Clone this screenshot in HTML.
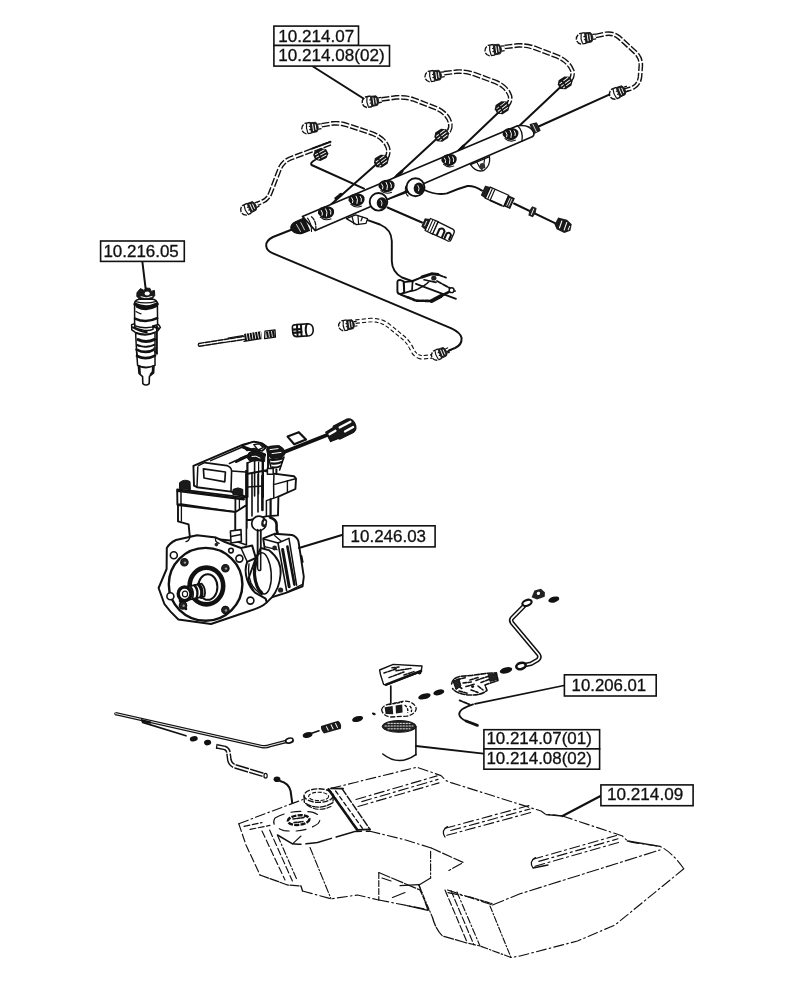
<!DOCTYPE html>
<html><head><meta charset="utf-8"><title>Fuel system</title>
<style>
html,body{margin:0;padding:0;background:#fff;}
svg{display:block;}
text{font-family:"Liberation Sans",sans-serif;font-size:16.2px;fill:#111;stroke:#111;stroke-width:0.3px;}
</style></head><body>
<svg width="812" height="1000" viewBox="0 0 812 1000">
<defs><filter id="g" filterUnits="userSpaceOnUse" x="0" y="0" width="812" height="1000" color-interpolation-filters="sRGB"><feColorMatrix type="saturate" values="0"/></filter></defs>
<rect width="812" height="1000" fill="#fff"/>
<g filter="url(#g)">
<path d="M292,229.5 L273,237 Q265.6,240.6 266.2,246 Q266.8,251 273,253.4 L451.4,328.3 Q460.6,332.6 461.6,338 Q462,345 455,348 L449,350.4" fill="none" stroke="#111" stroke-width="2.0" stroke-linecap="round" stroke-linejoin="round" />
<path d="M367,219.8 L380,224.5 Q391.5,229.5 391.8,241 L391.8,261 Q392,272 402,277.5 L413,281.5" fill="none" stroke="#111" stroke-width="1.9" stroke-linecap="round" stroke-linejoin="round" />
<path d="M315,160 Q309.6,163 311.6,165 L364,188.7" fill="none" stroke="#111" stroke-width="2.0" stroke-linecap="round" stroke-linejoin="round" />
<path d="M331,204.5 L376,164.5" fill="none" stroke="#111" stroke-width="2.0" stroke-linecap="round" stroke-linejoin="round" />
<path d="M336,198.5 L341,194.5" fill="none" stroke="#111" stroke-width="3.2" stroke-linecap="round" stroke-linejoin="round" />
<path d="M392,180 L438,137.5" fill="none" stroke="#111" stroke-width="2.0" stroke-linecap="round" stroke-linejoin="round" />
<path d="M397,175.8 L402,171.3" fill="none" stroke="#111" stroke-width="3.0" stroke-linecap="round" stroke-linejoin="round" />
<path d="M455,154 L499.5,111.5" fill="none" stroke="#111" stroke-width="2.0" stroke-linecap="round" stroke-linejoin="round" />
<path d="M459,150.5 L463.5,146" fill="none" stroke="#111" stroke-width="3.0" stroke-linecap="round" stroke-linejoin="round" />
<path d="M517,128 L560.5,87" fill="none" stroke="#111" stroke-width="2.0" stroke-linecap="round" stroke-linejoin="round" />
<path d="M538,126.8 L612,93.4" fill="none" stroke="#111" stroke-width="2.1" stroke-linecap="round" stroke-linejoin="round" />
<path d="M387.5,207.5 L422,222.5" fill="none" stroke="#111" stroke-width="2.0" stroke-linecap="round" stroke-linejoin="round" />
<path d="M388.6,199 L407.5,192" fill="none" stroke="#111" stroke-width="1.7" stroke-linecap="round" stroke-linejoin="round" />
<path d="M302.4,216.4 L517.5,125.8 Q529,124 533.5,131.5 Q535,136.5 531,137.2 L315.3,230.6 Z" fill="#fff" stroke="#111" stroke-width="1.6" stroke-linejoin="round" />
<path d="M291,229 Q290,224 296,221.5 L304,218 L309.5,230.5 L302,233.4 Q294,234.5 291,229 Z" fill="#151515" stroke="#111" stroke-width="1.2" stroke-linejoin="round" />
<path d="M296.5,224.5 L300.5,231.5 M300.8,222.6 L304.5,229.8" fill="none" stroke="#111" stroke-width="0.8" stroke-linecap="round" stroke-linejoin="round" style="stroke:#fff"/>
<path d="M311.5,216.8 Q316.5,221 315.8,229.8" fill="none" stroke="#111" stroke-width="1.3" stroke-dasharray="4 1.5" stroke-linecap="round" stroke-linejoin="round" />
<path d="M307.5,218.2 Q311.5,223 311.5,231.5" fill="none" stroke="#111" stroke-width="1.2" stroke-linecap="round" stroke-linejoin="round" />
<path d="M517.5,125.8 Q523.5,131 522,141" fill="none" stroke="#111" stroke-width="1.3" stroke-linecap="round" stroke-linejoin="round" />
<path d="M530,124.5 L536.5,122.8 L540.2,130.5 L534,133.6 Z" fill="#222" stroke="#111" stroke-width="1.0" stroke-linejoin="round" />
<path d="M533,124.6 L536.4,131.8" fill="none" stroke="#111" stroke-width="0.8" stroke-linecap="round" stroke-linejoin="round" style="stroke:#fff"/>
<g transform="translate(326,212.5) scale(1.0)">
<path d="M-8,1 Q-8.6,-4.4 -2,-6 Q5.6,-7.2 8,-2.6 Q9,2.8 3.4,5.6 Q-3.4,8 -8,1 Z" fill="#141414"/>
<path d="M-5,-2.4 Q-2.6,0.8 -4,3.2 M-0.6,-4 Q2,-0.6 0.4,4 M3.6,-3.6 Q5.6,-1 4.6,2" stroke="#fff" stroke-width="1.0" fill="none"/>
<path d="M-6,4.4 Q-1,9 5.4,6.2" stroke="#111" stroke-width="1.1" fill="none"/>
</g>
<g transform="translate(356.5,199.8) scale(1.0)">
<path d="M-8,1 Q-8.6,-4.4 -2,-6 Q5.6,-7.2 8,-2.6 Q9,2.8 3.4,5.6 Q-3.4,8 -8,1 Z" fill="#141414"/>
<path d="M-5,-2.4 Q-2.6,0.8 -4,3.2 M-0.6,-4 Q2,-0.6 0.4,4 M3.6,-3.6 Q5.6,-1 4.6,2" stroke="#fff" stroke-width="1.0" fill="none"/>
<path d="M-6,4.4 Q-1,9 5.4,6.2" stroke="#111" stroke-width="1.1" fill="none"/>
</g>
<g transform="translate(386.5,186) scale(1.0)">
<path d="M-8,1 Q-8.6,-4.4 -2,-6 Q5.6,-7.2 8,-2.6 Q9,2.8 3.4,5.6 Q-3.4,8 -8,1 Z" fill="#141414"/>
<path d="M-5,-2.4 Q-2.6,0.8 -4,3.2 M-0.6,-4 Q2,-0.6 0.4,4 M3.6,-3.6 Q5.6,-1 4.6,2" stroke="#fff" stroke-width="1.0" fill="none"/>
<path d="M-6,4.4 Q-1,9 5.4,6.2" stroke="#111" stroke-width="1.1" fill="none"/>
</g>
<g transform="translate(449,160) scale(0.95)">
<path d="M-8,1 Q-8.6,-4.4 -2,-6 Q5.6,-7.2 8,-2.6 Q9,2.8 3.4,5.6 Q-3.4,8 -8,1 Z" fill="#141414"/>
<path d="M-5,-2.4 Q-2.6,0.8 -4,3.2 M-0.6,-4 Q2,-0.6 0.4,4 M3.6,-3.6 Q5.6,-1 4.6,2" stroke="#fff" stroke-width="1.0" fill="none"/>
<path d="M-6,4.4 Q-1,9 5.4,6.2" stroke="#111" stroke-width="1.1" fill="none"/>
</g>
<g transform="translate(510.5,134) scale(0.98)">
<path d="M-8,1 Q-8.6,-4.4 -2,-6 Q5.6,-7.2 8,-2.6 Q9,2.8 3.4,5.6 Q-3.4,8 -8,1 Z" fill="#141414"/>
<path d="M-5,-2.4 Q-2.6,0.8 -4,3.2 M-0.6,-4 Q2,-0.6 0.4,4 M3.6,-3.6 Q5.6,-1 4.6,2" stroke="#fff" stroke-width="1.0" fill="none"/>
<path d="M-6,4.4 Q-1,9 5.4,6.2" stroke="#111" stroke-width="1.1" fill="none"/>
</g>
<circle cx="378.5" cy="201.8" r="8.8" fill="#fff" stroke="#111" stroke-width="1.9"/>
<ellipse cx="381.9" cy="203.0" rx="5.2" ry="5.8" fill="#151515"/>
<path d="M380.7,199.8 Q382.9,202.8 381.5,205.8" stroke="#fff" stroke-width="0.9" fill="none"/>
<circle cx="415.5" cy="187.2" r="9.0" fill="#fff" stroke="#111" stroke-width="1.9"/>
<ellipse cx="418.9" cy="188.39999999999998" rx="5.2" ry="5.8" fill="#151515"/>
<path d="M417.7,185.2 Q419.9,188.2 418.5,191.2" stroke="#fff" stroke-width="0.9" fill="none"/>
<path d="M406,186 Q404,192 408,196" fill="none" stroke="#111" stroke-width="1.2" stroke-dasharray="3 1.2" stroke-linecap="round" stroke-linejoin="round" />
<path d="M346.4,218.6 L355.5,214.8 L367.5,218.6 L366,223.4 L356.5,224.6 Z" fill="#fff" stroke="#111" stroke-width="1.3" stroke-linejoin="round" />
<path d="M352,216.5 L354,224 M358,215.8 L358.6,224 M362.5,217.2 L361,220.8" fill="none" stroke="#111" stroke-width="1.2" stroke-linecap="round" stroke-linejoin="round" />
<path d="M470.5,164.6 L489.5,156.6 Q490.8,166 483.5,170.6 Q476,172.6 470.5,164.6 Z" fill="#fff" stroke="#111" stroke-width="1.3" stroke-linejoin="round" />
<path d="M477,162.4 Q479,167.4 482.6,170.4 M484.5,159.4 Q483.2,164 484.8,167.8" fill="none" stroke="#111" stroke-width="1.2" stroke-linecap="round" stroke-linejoin="round" />
<ellipse cx="482" cy="166.2" rx="2.6" ry="3.2" transform="rotate(20 482 166.2)" fill="#333"/>
<path d="M424.5,190 Q436,195.5 447,193.4 Q458,188.6 467.5,186 Q474.5,185.6 482,190.6" fill="none" stroke="#111" stroke-width="1.9" stroke-linecap="round" stroke-linejoin="round" />
<g transform="translate(499.2,197.8) rotate(24) scale(0.96,0.9)">
<path d="M-18,-5.6 L-13,-6.4 L-13,6.4 L-18,5.4 Z" fill="#222" stroke="#111" stroke-width="1"/>
<path d="M-13,-6.8 L8,-6.8 L8,6.8 L-13,6.8 Z" fill="#fff" stroke="#111" stroke-width="1.3"/>
<path d="M-10.4,-6.4 L-10.4,6.4 M-7.6,-6.4 L-7.6,6.4" stroke="#111" stroke-width="1.2"/>
<path d="M8,-6 L14.6,-6 L14.6,6 L8,6 Z" fill="#222" stroke="#111" stroke-width="1.1"/>
<path d="M10.4,-4.6 L10.4,4.6 M12.6,-4.6 L12.6,4.6" stroke="#fff" stroke-width="0.8"/>
<path d="M-8,6.6 L6,6.6" stroke="#111" stroke-width="2"/>
</g>
<path d="M514,203.5 L556,223.6" fill="none" stroke="#111" stroke-width="2.0" stroke-linecap="round" stroke-linejoin="round" />
<g transform="translate(532.5,211.8) rotate(22)"><path d="M-2.4,-5 L2.4,-5 L3.4,0 L2.4,5 L-2.4,5 L-3.4,0 Z" fill="#222"/><path d="M0,-3.4 L0,3.4" stroke="#fff" stroke-width="0.9"/></g>
<g transform="translate(563.4,225.4) rotate(22) scale(1.22)"><path d="M-6.4,-4.4 L1,-5.4 L6,-3.4 L7,2 L3,5.4 L-4,5 L-7,2 Z" fill="#1a1a1a"/><path d="M-2.6,-3.2 L-2.2,3.4 M1.6,-3.6 L2,3.6" stroke="#fff" stroke-width="0.9"/><path d="M5,-1.6 L5,2.2" stroke="#fff" stroke-width="0.8"/></g>
<g transform="translate(438.4,229.2) rotate(24) scale(0.93)">
<path d="M-17.5,-4.4 L-12.5,-6 L-12.5,6 L-17.5,4.4 Z" fill="#222" stroke="#111" stroke-width="1"/>
<path d="M-15,-3 L-15,3" stroke="#fff" stroke-width="0.8"/>
<path d="M-12.5,-7 L-3.5,-7.4 L-3.5,7.4 L-12.5,7 Z" fill="#fff" stroke="#111" stroke-width="1.3"/>
<path d="M-9.6,-6.6 L-9.6,6.6 M-6.6,-6.8 L-6.6,6.8" stroke="#111" stroke-width="1.1"/>
<path d="M-3.5,-7 L14,-6.4 Q17,-6 17,-3 L17,5 Q17,7.4 14,7.4 L-3.5,7 Z" fill="#fff" stroke="#111" stroke-width="1.4"/>
<path d="M1,7 L1,-0.5 Q4,-4.5 7,-0.5 L7,7 M10,7 L10,0.5 Q12.5,-3 15,0.5 L15,6" fill="none" stroke="#111" stroke-width="2.2"/>
</g>
<path d="M397.4,282.4 Q397.2,279.8 400.4,280 L403.6,281.4 L404.2,292.6 L400.4,294.2 Q397.6,294 397.4,291.4 Z" fill="#fff" stroke="#111" stroke-width="1.9" stroke-linejoin="round" />
<path d="M404,282.2 L412.6,281.2 L412,290.6 L404.4,293 Z" fill="#fff" stroke="#111" stroke-width="1.7" stroke-linejoin="round" />
<path d="M400.6,294.4 L408,297.4" fill="none" stroke="#111" stroke-width="2.2" stroke-linecap="round" stroke-linejoin="round" />
<path d="M408,297.4 L416,300.6 L431.6,301" fill="none" stroke="#111" stroke-width="2.6" stroke-dasharray="3 1.5" stroke-linecap="round" stroke-linejoin="round" />
<path d="M412.6,281 L424,276.4" fill="none" stroke="#111" stroke-width="2.0" stroke-linecap="round" stroke-linejoin="round" />
<path d="M422,277 L431.6,273.8 L438,274.6" fill="none" stroke="#111" stroke-width="3.0" stroke-linecap="round" stroke-linejoin="round" />
<path d="M438,274.6 L446,277.6" fill="none" stroke="#111" stroke-width="1.7" stroke-dasharray="5 1.5" stroke-linecap="round" stroke-linejoin="round" />
<path d="M411.4,291 Q420,289.6 428.6,282" fill="none" stroke="#111" stroke-width="1.6" stroke-dasharray="6 1.4" stroke-linecap="round" stroke-linejoin="round" />
<path d="M416,283.8 L456,298.8" fill="none" stroke="#111" stroke-width="1.8" stroke-linecap="round" stroke-linejoin="round" />
<path d="M424,279.8 L436,282.4" fill="none" stroke="#111" stroke-width="1.6" stroke-linecap="round" stroke-linejoin="round" />
<path d="M437,281 L455,291" fill="none" stroke="#111" stroke-width="1.8" stroke-dasharray="5 1.6" stroke-linecap="round" stroke-linejoin="round" />
<ellipse cx="433.8" cy="278.2" rx="2.6" ry="2.4" transform="rotate(0 433.8 278.2)" fill="#222"/>
<path d="M431.6,301 L441,296" fill="none" stroke="#111" stroke-width="4.0" stroke-dasharray="2.2 1.0" stroke-linecap="round" stroke-linejoin="round" />
<path d="M441,296 L450,291.4" fill="none" stroke="#111" stroke-width="2.6" stroke-linecap="round" stroke-linejoin="round" />
<ellipse cx="451.6" cy="290.2" rx="2.6" ry="2.6" transform="rotate(0 451.6 290.2)" fill="#fff"/>
<circle cx="451.6" cy="290.2" r="2.4" fill="none" stroke="#111" stroke-width="1.4"/>
<path d="M355.5,321.6 L371,320 Q382,320 389,326 L404.5,338.6 Q409,342.8 411.8,349 Q415,356.8 422,357.4 L432.6,356.4" fill="none" stroke="#111" stroke-width="4.6" stroke-dasharray="4.2 2.2" stroke-linecap="butt" stroke-linejoin="round"/>
<path d="M355.5,321.6 L371,320 Q382,320 389,326 L404.5,338.6 Q409,342.8 411.8,349 Q415,356.8 422,357.4 L432.6,356.4" fill="none" stroke="#fff" stroke-width="2.40" stroke-linecap="butt" stroke-linejoin="round"/>
<g transform="translate(348.6,324.6) rotate(-8) scale(0.95)">
<path d="M-1.5,-5.2 L-6.6,-5 Q-10.4,-3.4 -10.6,0.4 Q-10.4,4.2 -6.6,5.6 L-1.5,5.6" fill="#fff" stroke="#111" stroke-width="1.4" stroke-dasharray="5.5 1.3"/>
<path d="M-5,-4.8 Q-6.6,0 -5,5.2" fill="none" stroke="#111" stroke-width="1.2"/>
<path d="M-1.6,-5 L4.2,-4.6 Q6,-3 6,0.4 Q6,3.6 4.2,5 L-1.6,5.4 Z" fill="#1c1c1c" stroke="#111" stroke-width="0.8"/>
<path d="M0.8,-3.4 L0.8,3.8 M3.4,-2.6 L3.4,3" stroke="#fff" stroke-width="0.9" fill="none"/>
<path d="M-3.2,-1.4 L-1.4,-1.4 M-3.2,1.8 L-1.4,1.8" stroke="#111" stroke-width="1.1" fill="none"/>
<path d="M6,-2.4 L9,-2.3 M6,2.6 L9,2.5" stroke="#111" stroke-width="1.3" fill="none"/>
</g>
<g transform="translate(441,353) rotate(-22) scale(0.95)">
<path d="M-1.5,-5.2 L-6.6,-5 Q-10.4,-3.4 -10.6,0.4 Q-10.4,4.2 -6.6,5.6 L-1.5,5.6" fill="#fff" stroke="#111" stroke-width="1.4" stroke-dasharray="5.5 1.3"/>
<path d="M-5,-4.8 Q-6.6,0 -5,5.2" fill="none" stroke="#111" stroke-width="1.2"/>
<path d="M-1.6,-5 L4.2,-4.6 Q6,-3 6,0.4 Q6,3.6 4.2,5 L-1.6,5.4 Z" fill="#1c1c1c" stroke="#111" stroke-width="0.8"/>
<path d="M0.8,-3.4 L0.8,3.8 M3.4,-2.6 L3.4,3" stroke="#fff" stroke-width="0.9" fill="none"/>
<path d="M-3.2,-1.4 L-1.4,-1.4 M-3.2,1.8 L-1.4,1.8" stroke="#111" stroke-width="1.1" fill="none"/>
<path d="M6,-2.4 L9,-2.3 M6,2.6 L9,2.5" stroke="#111" stroke-width="1.3" fill="none"/>
</g>
<path d="M447.5,351.5 L451,350" fill="none" stroke="#111" stroke-width="1.5" stroke-linecap="round" stroke-linejoin="round" />
<path d="M330.5,143.4 L290,158.6 Q282.6,161.8 279.8,168.6 L270.4,193 Q268,199.4 262,201.8 L257.4,203.8" fill="none" stroke="#111" stroke-width="4.7" stroke-dasharray="8 1.8" stroke-linecap="butt" stroke-linejoin="round"/>
<path d="M330.5,143.4 L290,158.6 Q282.6,161.8 279.8,168.6 L270.4,193 Q268,199.4 262,201.8 L257.4,203.8" fill="none" stroke="#fff" stroke-width="1.90" stroke-linecap="butt" stroke-linejoin="round"/>
<path d="M330.5,141.8 L312,148.6" fill="none" stroke="#111" stroke-width="2.0" stroke-dasharray="2.4 1.2" stroke-linecap="round" stroke-linejoin="round" />
<g transform="translate(250.4,207.4) rotate(-24) scale(0.98)">
<path d="M-1.5,-5.2 L-6.6,-5 Q-10.4,-3.4 -10.6,0.4 Q-10.4,4.2 -6.6,5.6 L-1.5,5.6" fill="#fff" stroke="#111" stroke-width="1.4" stroke-dasharray="5.5 1.3"/>
<path d="M-5,-4.8 Q-6.6,0 -5,5.2" fill="none" stroke="#111" stroke-width="1.2"/>
<path d="M-1.6,-5 L4.2,-4.6 Q6,-3 6,0.4 Q6,3.6 4.2,5 L-1.6,5.4 Z" fill="#1c1c1c" stroke="#111" stroke-width="0.8"/>
<path d="M0.8,-3.4 L0.8,3.8 M3.4,-2.6 L3.4,3" stroke="#fff" stroke-width="0.9" fill="none"/>
<path d="M-3.2,-1.4 L-1.4,-1.4 M-3.2,1.8 L-1.4,1.8" stroke="#111" stroke-width="1.1" fill="none"/>
<path d="M6,-2.4 L9,-2.3 M6,2.6 L9,2.5" stroke="#111" stroke-width="1.3" fill="none"/>
</g>
<g transform="translate(320.6,154.4) rotate(-20) scale(0.95)">
<path d="M-7.6,-2 L-4.6,-5.6 L2.6,-6.2 L7.4,-3.2 L8,2 L4.6,5.8 L-2.6,6.4 L-7.4,3.4 Z" fill="#161616"/>
<path d="M-5.6,-1.6 L5.6,-3.4 M-5.6,1.4 L6,-0.4 M-4.4,4 L5.6,2.6" stroke="#fff" stroke-width="0.95" fill="none"/>
<path d="M-1.6,-5.4 L-1,5.6" stroke="#161616" stroke-width="1.6"/>
</g>
<path d="M321.6,125.2 L333,123.4 Q341,122.8 348,125.4 L372,133.4 Q384.6,138.2 387.8,147.6 Q389.4,152.8 386.4,158" fill="none" stroke="#111" stroke-width="4.7" stroke-dasharray="8 1.8" stroke-linecap="butt" stroke-linejoin="round"/>
<path d="M321.6,125.2 L333,123.4 Q341,122.8 348,125.4 L372,133.4 Q384.6,138.2 387.8,147.6 Q389.4,152.8 386.4,158" fill="none" stroke="#fff" stroke-width="1.90" stroke-linecap="butt" stroke-linejoin="round"/>
<g transform="translate(312.2,127.4) rotate(-8) scale(1.0)">
<path d="M-1.5,-5.2 L-6.6,-5 Q-10.4,-3.4 -10.6,0.4 Q-10.4,4.2 -6.6,5.6 L-1.5,5.6" fill="#fff" stroke="#111" stroke-width="1.4" stroke-dasharray="5.5 1.3"/>
<path d="M-5,-4.8 Q-6.6,0 -5,5.2" fill="none" stroke="#111" stroke-width="1.2"/>
<path d="M-1.6,-5 L4.2,-4.6 Q6,-3 6,0.4 Q6,3.6 4.2,5 L-1.6,5.4 Z" fill="#1c1c1c" stroke="#111" stroke-width="0.8"/>
<path d="M0.8,-3.4 L0.8,3.8 M3.4,-2.6 L3.4,3" stroke="#fff" stroke-width="0.9" fill="none"/>
<path d="M-3.2,-1.4 L-1.4,-1.4 M-3.2,1.8 L-1.4,1.8" stroke="#111" stroke-width="1.1" fill="none"/>
<path d="M6,-2.4 L9,-2.3 M6,2.6 L9,2.5" stroke="#111" stroke-width="1.3" fill="none"/>
</g>
<g transform="translate(381.2,161) rotate(-28) scale(0.95)">
<path d="M-7.6,-2 L-4.6,-5.6 L2.6,-6.2 L7.4,-3.2 L8,2 L4.6,5.8 L-2.6,6.4 L-7.4,3.4 Z" fill="#161616"/>
<path d="M-5.6,-1.6 L5.6,-3.4 M-5.6,1.4 L6,-0.4 M-4.4,4 L5.6,2.6" stroke="#fff" stroke-width="0.95" fill="none"/>
<path d="M-1.6,-5.4 L-1,5.6" stroke="#161616" stroke-width="1.6"/>
</g>
<path d="M381.6,99.4 L396,97.4 Q406,96.8 414,99.6 L436.6,108.4 Q447.6,113.4 450.2,123 Q451.2,128.4 448,132.6" fill="none" stroke="#111" stroke-width="4.7" stroke-dasharray="8 1.8" stroke-linecap="butt" stroke-linejoin="round"/>
<path d="M381.6,99.4 L396,97.4 Q406,96.8 414,99.6 L436.6,108.4 Q447.6,113.4 450.2,123 Q451.2,128.4 448,132.6" fill="none" stroke="#fff" stroke-width="1.90" stroke-linecap="butt" stroke-linejoin="round"/>
<g transform="translate(372.6,101) rotate(-8) scale(1.0)">
<path d="M-1.5,-5.2 L-6.6,-5 Q-10.4,-3.4 -10.6,0.4 Q-10.4,4.2 -6.6,5.6 L-1.5,5.6" fill="#fff" stroke="#111" stroke-width="1.4" stroke-dasharray="5.5 1.3"/>
<path d="M-5,-4.8 Q-6.6,0 -5,5.2" fill="none" stroke="#111" stroke-width="1.2"/>
<path d="M-1.6,-5 L4.2,-4.6 Q6,-3 6,0.4 Q6,3.6 4.2,5 L-1.6,5.4 Z" fill="#1c1c1c" stroke="#111" stroke-width="0.8"/>
<path d="M0.8,-3.4 L0.8,3.8 M3.4,-2.6 L3.4,3" stroke="#fff" stroke-width="0.9" fill="none"/>
<path d="M-3.2,-1.4 L-1.4,-1.4 M-3.2,1.8 L-1.4,1.8" stroke="#111" stroke-width="1.1" fill="none"/>
<path d="M6,-2.4 L9,-2.3 M6,2.6 L9,2.5" stroke="#111" stroke-width="1.3" fill="none"/>
</g>
<g transform="translate(441.6,135.2) rotate(-28) scale(0.95)">
<path d="M-7.6,-2 L-4.6,-5.6 L2.6,-6.2 L7.4,-3.2 L8,2 L4.6,5.8 L-2.6,6.4 L-7.4,3.4 Z" fill="#161616"/>
<path d="M-5.6,-1.6 L5.6,-3.4 M-5.6,1.4 L6,-0.4 M-4.4,4 L5.6,2.6" stroke="#fff" stroke-width="0.95" fill="none"/>
<path d="M-1.6,-5.4 L-1,5.6" stroke="#161616" stroke-width="1.6"/>
</g>
<path d="M444,73.2 L457,71.6 Q466,71.2 474,74 L495.6,82 Q507,86.8 510,96 Q511,101 507.6,105" fill="none" stroke="#111" stroke-width="4.7" stroke-dasharray="8 1.8" stroke-linecap="butt" stroke-linejoin="round"/>
<path d="M444,73.2 L457,71.6 Q466,71.2 474,74 L495.6,82 Q507,86.8 510,96 Q511,101 507.6,105" fill="none" stroke="#fff" stroke-width="1.90" stroke-linecap="butt" stroke-linejoin="round"/>
<g transform="translate(435.4,75.4) rotate(-8) scale(1.0)">
<path d="M-1.5,-5.2 L-6.6,-5 Q-10.4,-3.4 -10.6,0.4 Q-10.4,4.2 -6.6,5.6 L-1.5,5.6" fill="#fff" stroke="#111" stroke-width="1.4" stroke-dasharray="5.5 1.3"/>
<path d="M-5,-4.8 Q-6.6,0 -5,5.2" fill="none" stroke="#111" stroke-width="1.2"/>
<path d="M-1.6,-5 L4.2,-4.6 Q6,-3 6,0.4 Q6,3.6 4.2,5 L-1.6,5.4 Z" fill="#1c1c1c" stroke="#111" stroke-width="0.8"/>
<path d="M0.8,-3.4 L0.8,3.8 M3.4,-2.6 L3.4,3" stroke="#fff" stroke-width="0.9" fill="none"/>
<path d="M-3.2,-1.4 L-1.4,-1.4 M-3.2,1.8 L-1.4,1.8" stroke="#111" stroke-width="1.1" fill="none"/>
<path d="M6,-2.4 L9,-2.3 M6,2.6 L9,2.5" stroke="#111" stroke-width="1.3" fill="none"/>
</g>
<g transform="translate(502,107.6) rotate(-28) scale(0.95)">
<path d="M-7.6,-2 L-4.6,-5.6 L2.6,-6.2 L7.4,-3.2 L8,2 L4.6,5.8 L-2.6,6.4 L-7.4,3.4 Z" fill="#161616"/>
<path d="M-5.6,-1.6 L5.6,-3.4 M-5.6,1.4 L6,-0.4 M-4.4,4 L5.6,2.6" stroke="#fff" stroke-width="0.95" fill="none"/>
<path d="M-1.6,-5.4 L-1,5.6" stroke="#161616" stroke-width="1.6"/>
</g>
<path d="M504.6,47 L518,45.4 Q527,45 535,48 L557.6,56.6 Q569,61.6 572.4,71 Q573.6,76 570,80.4" fill="none" stroke="#111" stroke-width="4.7" stroke-dasharray="8 1.8" stroke-linecap="butt" stroke-linejoin="round"/>
<path d="M504.6,47 L518,45.4 Q527,45 535,48 L557.6,56.6 Q569,61.6 572.4,71 Q573.6,76 570,80.4" fill="none" stroke="#fff" stroke-width="1.90" stroke-linecap="butt" stroke-linejoin="round"/>
<g transform="translate(495.4,49.4) rotate(-8) scale(1.0)">
<path d="M-1.5,-5.2 L-6.6,-5 Q-10.4,-3.4 -10.6,0.4 Q-10.4,4.2 -6.6,5.6 L-1.5,5.6" fill="#fff" stroke="#111" stroke-width="1.4" stroke-dasharray="5.5 1.3"/>
<path d="M-5,-4.8 Q-6.6,0 -5,5.2" fill="none" stroke="#111" stroke-width="1.2"/>
<path d="M-1.6,-5 L4.2,-4.6 Q6,-3 6,0.4 Q6,3.6 4.2,5 L-1.6,5.4 Z" fill="#1c1c1c" stroke="#111" stroke-width="0.8"/>
<path d="M0.8,-3.4 L0.8,3.8 M3.4,-2.6 L3.4,3" stroke="#fff" stroke-width="0.9" fill="none"/>
<path d="M-3.2,-1.4 L-1.4,-1.4 M-3.2,1.8 L-1.4,1.8" stroke="#111" stroke-width="1.1" fill="none"/>
<path d="M6,-2.4 L9,-2.3 M6,2.6 L9,2.5" stroke="#111" stroke-width="1.3" fill="none"/>
</g>
<g transform="translate(565,82.8) rotate(-28) scale(0.95)">
<path d="M-7.6,-2 L-4.6,-5.6 L2.6,-6.2 L7.4,-3.2 L8,2 L4.6,5.8 L-2.6,6.4 L-7.4,3.4 Z" fill="#161616"/>
<path d="M-5.6,-1.6 L5.6,-3.4 M-5.6,1.4 L6,-0.4 M-4.4,4 L5.6,2.6" stroke="#fff" stroke-width="0.95" fill="none"/>
<path d="M-1.6,-5.4 L-1,5.6" stroke="#161616" stroke-width="1.6"/>
</g>
<path d="M595.6,36 L606,33.8 Q613.4,32.8 619,37.4 L635.4,52.4 Q641.4,58.4 640.8,66 L640,77 Q638.8,86.4 630,88.8 L624.6,90.4" fill="none" stroke="#111" stroke-width="4.7" stroke-dasharray="8 1.8" stroke-linecap="butt" stroke-linejoin="round"/>
<path d="M595.6,36 L606,33.8 Q613.4,32.8 619,37.4 L635.4,52.4 Q641.4,58.4 640.8,66 L640,77 Q638.8,86.4 630,88.8 L624.6,90.4" fill="none" stroke="#fff" stroke-width="1.90" stroke-linecap="butt" stroke-linejoin="round"/>
<g transform="translate(586.8,37.6) rotate(-8) scale(1.0)">
<path d="M-1.5,-5.2 L-6.6,-5 Q-10.4,-3.4 -10.6,0.4 Q-10.4,4.2 -6.6,5.6 L-1.5,5.6" fill="#fff" stroke="#111" stroke-width="1.4" stroke-dasharray="5.5 1.3"/>
<path d="M-5,-4.8 Q-6.6,0 -5,5.2" fill="none" stroke="#111" stroke-width="1.2"/>
<path d="M-1.6,-5 L4.2,-4.6 Q6,-3 6,0.4 Q6,3.6 4.2,5 L-1.6,5.4 Z" fill="#1c1c1c" stroke="#111" stroke-width="0.8"/>
<path d="M0.8,-3.4 L0.8,3.8 M3.4,-2.6 L3.4,3" stroke="#fff" stroke-width="0.9" fill="none"/>
<path d="M-3.2,-1.4 L-1.4,-1.4 M-3.2,1.8 L-1.4,1.8" stroke="#111" stroke-width="1.1" fill="none"/>
<path d="M6,-2.4 L9,-2.3 M6,2.6 L9,2.5" stroke="#111" stroke-width="1.3" fill="none"/>
</g>
<g transform="translate(619.4,91.6) rotate(-22) scale(1.0)">
<path d="M-1.5,-5.2 L-6.6,-5 Q-10.4,-3.4 -10.6,0.4 Q-10.4,4.2 -6.6,5.6 L-1.5,5.6" fill="#fff" stroke="#111" stroke-width="1.4" stroke-dasharray="5.5 1.3"/>
<path d="M-5,-4.8 Q-6.6,0 -5,5.2" fill="none" stroke="#111" stroke-width="1.2"/>
<path d="M-1.6,-5 L4.2,-4.6 Q6,-3 6,0.4 Q6,3.6 4.2,5 L-1.6,5.4 Z" fill="#1c1c1c" stroke="#111" stroke-width="0.8"/>
<path d="M0.8,-3.4 L0.8,3.8 M3.4,-2.6 L3.4,3" stroke="#fff" stroke-width="0.9" fill="none"/>
<path d="M-3.2,-1.4 L-1.4,-1.4 M-3.2,1.8 L-1.4,1.8" stroke="#111" stroke-width="1.1" fill="none"/>
<path d="M6,-2.4 L9,-2.3 M6,2.6 L9,2.5" stroke="#111" stroke-width="1.3" fill="none"/>
</g>
<path d="M137,292.6 L140.4,288.6 L144,290.4 L146,288 L150,288.4 L151,291.4 L154.4,290.4 L154.8,295.4 L151.6,299.4 L140,299.6 L136.8,296.4 Z" fill="#1a1a1a" stroke="#111" stroke-width="1.0" stroke-linejoin="round" />
<ellipse cx="147.2" cy="293.6" rx="2.6" ry="2.0" transform="rotate(0 147.2 293.6)" fill="#fff"/>
<path d="M141,296.8 Q146,299.4 152,296.6" fill="none" stroke="#111" stroke-width="1.0" stroke-linecap="round" stroke-linejoin="round" style="stroke:#fff"/>
<path d="M134.6,303.5 Q134.4,300.4 139,299.2 L152.4,299 Q157.4,300.2 157.4,303.5 L157.6,325.4 Q146,330 134.6,325.6 Z" fill="#fff" stroke="#111" stroke-width="1.5" stroke-linejoin="round" />
<path d="M135,304.2 Q146,309.6 157.2,304" fill="none" stroke="#111" stroke-width="3.2" stroke-linecap="round" stroke-linejoin="round" />
<path d="M137,306.8 Q146,311.8 156,306.4" fill="none" stroke="#111" stroke-width="2.2" stroke-linecap="round" stroke-linejoin="round" />
<path d="M135.6,301.6 Q146,304.4 156.4,301.4" fill="none" stroke="#111" stroke-width="1.2" stroke-linecap="round" stroke-linejoin="round" />
<path d="M135,318.6 Q146,323.6 157.2,318.2" fill="none" stroke="#111" stroke-width="2.5" stroke-linecap="round" stroke-linejoin="round" />
<path d="M136,311.6 Q138,313 141,313.8" fill="none" stroke="#111" stroke-width="1.2" stroke-linecap="round" stroke-linejoin="round" />
<path d="M131.6,324.6 L134.6,323.8 L134.8,327.4 Q146,332.6 153,329.4 L153,326 L158.4,324.4 L160.4,327.4 L157.4,331.4 Q146,336.4 135.4,332.4 L131.8,329.8 Z" fill="#fff" stroke="#111" stroke-width="1.5" stroke-linejoin="round" />
<path d="M133,327.4 Q141,331.8 146.6,332.2" fill="none" stroke="#111" stroke-width="2.2" stroke-linecap="round" stroke-linejoin="round" />
<path d="M153,326.4 L158.6,328.6" fill="none" stroke="#111" stroke-width="2.2" stroke-linecap="round" stroke-linejoin="round" />
<path d="M135.6,333 Q146,337 155,332.6 L155,365.4 Q146,369.6 137.6,365.4 L136.6,352 Z" fill="#fff" stroke="#111" stroke-width="1.5" stroke-linejoin="round" />
<path d="M138,339.6 Q146,343.6 154.6,339.4" fill="none" stroke="#111" stroke-width="2.9" stroke-linecap="round" stroke-linejoin="round" />
<path d="M137,345 Q146,348.6 154.6,344.6" fill="none" stroke="#111" stroke-width="2.0" stroke-dasharray="3.4 1.4" stroke-linecap="round" stroke-linejoin="round" />
<path d="M136.6,349.6 Q146,354.4 154.6,349.4" fill="none" stroke="#111" stroke-width="2.7" stroke-linecap="round" stroke-linejoin="round" />
<path d="M137,356 Q146,360.6 155,355.6" fill="none" stroke="#111" stroke-width="2.7" stroke-linecap="round" stroke-linejoin="round" />
<path d="M136.8,352 Q137,354 137.8,356" fill="none" stroke="#111" stroke-width="1.2" stroke-linecap="round" stroke-linejoin="round" />
<path d="M156.9,326 L156.9,353.6" fill="none" stroke="#111" stroke-width="1.9" stroke-linecap="round" stroke-linejoin="round" />
<path d="M155,351.6 L157,353.6" fill="none" stroke="#111" stroke-width="1.6" stroke-linecap="round" stroke-linejoin="round" />
<ellipse cx="154.6" cy="349" rx="1.8" ry="1.8" transform="rotate(0 154.6 349)" fill="#222"/>
<path d="M138.4,365.8 Q146,369.6 154,365.6 L153.6,373 L149.4,376.4 L149.2,383.6 Q146,386.4 142.8,383.6 L142.6,376.6 L139,373.4 Z" fill="#fff" stroke="#111" stroke-width="1.6" stroke-linejoin="round" />
<path d="M139.6,367.4 L140,373.4 M152.8,367.4 L152.6,372.6" fill="none" stroke="#111" stroke-width="1.8" stroke-linecap="round" stroke-linejoin="round" />
<path d="M150.6,374.4 L153,371.6" fill="none" stroke="#111" stroke-width="2.0" stroke-linecap="round" stroke-linejoin="round" />
<path d="M198.6,343.6 Q197.6,345 199,346.2" fill="none" stroke="#111" stroke-width="1.2" stroke-linecap="round" stroke-linejoin="round" />
<path d="M199,343.4 L244,336.4" fill="none" stroke="#111" stroke-width="1.5" stroke-dasharray="5 1.4" stroke-linecap="round" stroke-linejoin="round" />
<path d="M199.4,346.2 L244.4,339.4" fill="none" stroke="#111" stroke-width="1.5" stroke-dasharray="5 1.4" stroke-linecap="round" stroke-linejoin="round" />
<path d="M228,338 L243,335.6" fill="none" stroke="#111" stroke-width="1.2" stroke-linecap="round" stroke-linejoin="round" />
<path d="M244.6,337.6 L261.6,334.8" fill="none" stroke="#111" stroke-width="7.4" stroke-dasharray="2.0 0.8" stroke-linecap="round" stroke-linejoin="round" stroke-linecap="butt" style="stroke-linecap:butt"/>
<path d="M244,341.4 L261,338.6" fill="none" stroke="#111" stroke-width="1.2" stroke-linecap="round" stroke-linejoin="round" />
<path d="M265,331.2 L264.6,338.6 M265,331.2 L275,329.8 L275.4,337.2 L264.6,338.6" fill="none" stroke="#111" stroke-width="1.3" stroke-linecap="round" stroke-linejoin="round" />
<path d="M266.4,334.8 L274.6,333.6" fill="none" stroke="#111" stroke-width="6.2" stroke-dasharray="2.2 0.8" stroke-linecap="round" stroke-linejoin="round" style="stroke-linecap:butt"/>
<path d="M292.4,327.6 Q292,324.6 296,324.6 L308.4,323.8 Q313,324.4 313.2,329.6 Q313.4,334.6 309.4,335.8 L297,336.6 Q293.4,336.6 292.8,333 Z" fill="#fff" stroke="#111" stroke-width="1.6" stroke-linejoin="round" />
<path d="M297,325.6 L297.6,336 M301,325 L301.6,336 M306.6,324.4 Q304.6,330 307,335.6" fill="none" stroke="#111" stroke-width="2.0" stroke-linecap="round" stroke-linejoin="round" />
<path d="M293,329.6 L301,329" fill="none" stroke="#111" stroke-width="2.2" stroke-linecap="round" stroke-linejoin="round" />
<path d="M293.4,332.8 L301.4,332.2" fill="none" stroke="#111" stroke-width="2.2" stroke-linecap="round" stroke-linejoin="round" />
<path d="M283,452.4 L329,434.2" fill="none" stroke="#111" stroke-width="3.8" stroke-linecap="round" stroke-linejoin="round" />
<path d="M287.6,436.6 L298.8,432.2 L306,439.6 L294.2,444.2 Z" fill="#fff" stroke="#111" stroke-width="2.2" stroke-linejoin="round" />
<g transform="translate(341,430.4) rotate(-27) scale(1,1.14)">
<path d="M-14.5,-4.6 L-6,-5.2 L-5,-6.4 L10,-6.6 Q15.6,-5.6 15.6,0 Q15.6,5.6 10,6.6 L-5,6.4 L-6,5.2 L-14.5,4.6 Z" fill="#181818" stroke="#111" stroke-width="1"/>
<path d="M-12,-1.6 L-5,-2 M0,-2.8 L12.4,-3 M3,2.4 L12.4,2.2" stroke="#fff" stroke-width="2.0" fill="none" stroke-linecap="round"/>
</g>
<path d="M262,470 L274,473.6 L294,476.2 L296,478.6 L295.4,489 L278.4,496.6 L278,515.4 L266,516.4 L250,520 L246.4,520 L246.4,470 Z" fill="#fff" stroke="#111" stroke-width="1.9" stroke-linejoin="round" />
<path d="M274,473.6 L273.6,484.6 L294.6,479 M273.6,484.6 L273.8,497.6" fill="none" stroke="#111" stroke-width="1.5" stroke-linecap="round" stroke-linejoin="round" />
<path d="M287.4,480.8 L287.4,492.4" fill="none" stroke="#111" stroke-width="1.4" stroke-linecap="round" stroke-linejoin="round" />
<path d="M278.2,496.6 L266.4,500.6 L266.4,516" fill="none" stroke="#111" stroke-width="1.5" stroke-linecap="round" stroke-linejoin="round" />
<path d="M270.6,499.4 L270.6,515.6" fill="none" stroke="#111" stroke-width="2.2" stroke-linecap="round" stroke-linejoin="round" />
<path d="M258,474 L258,512 M252,474 L252,516" fill="none" stroke="#111" stroke-width="1.6" stroke-linecap="round" stroke-linejoin="round" />
<path d="M262.4,476 L262.4,510" fill="none" stroke="#111" stroke-width="2.6" stroke-linecap="round" stroke-linejoin="round" />
<path d="M193.4,465.8 L243,444.6 L254,441.6 L262,443.4 L268,447.6 L268,470 L246.4,474 L246.4,497 L231,491.6 L197,487.2 L194,485.6 Z" fill="#fff" stroke="#111" stroke-width="1.9" stroke-linejoin="round" />
<path d="M198.4,465.6 L204.6,462.6 L227,465.6 Q231.4,467.4 231.6,471 L231,491.2" fill="none" stroke="#111" stroke-width="1.6" stroke-linecap="round" stroke-linejoin="round" />
<path d="M197.8,467 L197,486.8" fill="none" stroke="#111" stroke-width="1.5" stroke-linecap="round" stroke-linejoin="round" />
<path d="M210.6,460.6 L243,446.8" fill="none" stroke="#111" stroke-width="1.5" stroke-linecap="round" stroke-linejoin="round" />
<path d="M229.4,463.4 L249,454.8" fill="none" stroke="#111" stroke-width="1.6" stroke-linecap="round" stroke-linejoin="round" />
<path d="M231.6,471 L245.6,472" fill="none" stroke="#111" stroke-width="1.4" stroke-linecap="round" stroke-linejoin="round" />
<path d="M203.4,468.8 L225.4,472 L224.8,481.8 L204,478 Z" fill="#fff" stroke="#111" stroke-width="1.7" stroke-linejoin="round" />
<path d="M242.7,445.4 L253.6,441.8 L260.6,442.8 L265.6,447.8 L262,451 L254,448.6 L247,450.4 Z" fill="#fff" stroke="#111" stroke-width="1.7" stroke-linejoin="round" />
<path d="M253.8,444.6 L259.4,443.8 L263.2,447.6 L258,450 Z" fill="#fff" stroke="#111" stroke-width="1.4" stroke-linejoin="round" />
<path d="M243,447 L264.4,454.8" fill="none" stroke="#111" stroke-width="3.4" stroke-linecap="round" stroke-linejoin="round" />
<path d="M249,452.6 L258,450.6 L265,455 L264.6,461.6 L256,459.4 L250,461.6 L246.6,457 Z" fill="#161616" stroke="#111" stroke-width="1.0" stroke-linejoin="round" />
<path d="M236,462 L249.6,455.6" fill="none" stroke="#111" stroke-width="2.0" stroke-linecap="round" stroke-linejoin="round" />
<path d="M240,459 L247,456" fill="none" stroke="#111" stroke-width="2.6" stroke-linecap="round" stroke-linejoin="round" />
<path d="M252,456.4 Q256,455 260,458" fill="none" stroke="#111" stroke-width="1.0" stroke-linecap="round" stroke-linejoin="round" style="stroke:#fff"/>
<path d="M247.4,463 L247.4,497" fill="none" stroke="#111" stroke-width="2.2" stroke-linecap="round" stroke-linejoin="round" />
<path d="M254.6,461 L254.6,496" fill="none" stroke="#111" stroke-width="1.6" stroke-linecap="round" stroke-linejoin="round" />
<path d="M262.8,460 L262.8,497" fill="none" stroke="#111" stroke-width="2.4" stroke-linecap="round" stroke-linejoin="round" />
<path d="M258.6,462 L258.6,494" fill="none" stroke="#111" stroke-width="1.2" stroke-linecap="round" stroke-linejoin="round" />
<path d="M247.4,463 Q255,459 262.8,461.4" fill="none" stroke="#111" stroke-width="1.5" stroke-linecap="round" stroke-linejoin="round" />
<path d="M247.4,487 L262.8,486" fill="none" stroke="#111" stroke-width="1.5" stroke-linecap="round" stroke-linejoin="round" />
<path d="M246.4,470 L246.4,528.6" fill="none" stroke="#111" stroke-width="2.4" stroke-linejoin="round" />
<path d="M266.6,449 Q268,445.6 272,446 L279,445.6 Q283.6,447.6 285,451.6 Q285.6,455 282,457.4 L272,458.6 Q267,456.4 266.6,449 Z" fill="#161616" stroke="#111" stroke-width="1.0" stroke-linejoin="round" />
<path d="M270,449.6 L278,448.6 M272,453.6 L281,452.4" fill="none" stroke="#111" stroke-width="1.0" stroke-linecap="round" stroke-linejoin="round" style="stroke:#fff"/>
<path d="M270.6,459.6 Q276,460.4 282.4,458.4" fill="none" stroke="#111" stroke-width="2.2" stroke-linecap="round" stroke-linejoin="round" />
<path d="M271.6,463.4 Q276.6,464.4 281.6,462" fill="none" stroke="#111" stroke-width="2.2" stroke-linecap="round" stroke-linejoin="round" />
<path d="M272.6,467.2 Q276.6,468.4 280.4,466" fill="none" stroke="#111" stroke-width="2.0" stroke-linecap="round" stroke-linejoin="round" />
<path d="M268.6,458 L271.4,469 M284,457 L279.6,470" fill="none" stroke="#111" stroke-width="1.6" stroke-linecap="round" stroke-linejoin="round" />
<path d="M276.4,469.4 L276.4,474" fill="none" stroke="#111" stroke-width="2.0" stroke-linecap="round" stroke-linejoin="round" />
<path d="M267.4,468.6 L273.2,468.6 L273.2,474.2 L267.4,474.2 Z" fill="#fff" stroke="#111" stroke-width="1.5" stroke-linejoin="round" />
<path d="M177.2,489.4 L190,490.6 L243.6,497.4 L246.4,497.6 L246.4,505 L235.4,512.2 L181,504.2 L177.4,504.6 Z" fill="#fff" stroke="#111" stroke-width="1.9" stroke-linejoin="round" />
<path d="M177.6,490.8 L243.8,499.2" fill="none" stroke="#111" stroke-width="2.4" stroke-linecap="round" stroke-linejoin="round" />
<path d="M181,491.4 L181,504" fill="none" stroke="#111" stroke-width="1.5" stroke-linecap="round" stroke-linejoin="round" />
<path d="M235.4,499 L235.4,540" fill="none" stroke="#111" stroke-width="1.8" stroke-linecap="round" stroke-linejoin="round" />
<path d="M239.4,499.6 L239.4,538" fill="none" stroke="#111" stroke-width="1.3" stroke-linecap="round" stroke-linejoin="round" />
<path d="M179.4,488.4 L179.6,482.6 Q184.6,478.4 190,481.6 L190.4,489.6 Z" fill="#1a1a1a" stroke="#111" stroke-width="1.0" stroke-linejoin="round" />
<path d="M232.8,494.4 L233,489.4 Q238,486.4 242.8,489.4 L242.8,496 Z" fill="#1a1a1a" stroke="#111" stroke-width="1.0" stroke-linejoin="round" />
<path d="M178,505 L178,521.4 L188.6,524.4 L189.8,536.4 L235.4,541 L235.4,512 Z" fill="#fff" stroke="#111" stroke-width="1.9" stroke-linejoin="round" />
<path d="M181.4,505.6 L181.4,521" fill="none" stroke="#111" stroke-width="1.3" stroke-linecap="round" stroke-linejoin="round" />
<path d="M235.4,512.2 L246.4,505.4 L246.4,545 L235.4,541 Z" fill="#fff" stroke="#111" stroke-width="1.6" stroke-linejoin="round" />
<path d="M230.4,531 L241,529.6 L241.4,541.4 L231,543 Z" fill="#fff" stroke="#111" stroke-width="1.6" stroke-linejoin="round" />
<path d="M230.8,536.4 L241,534.6" fill="none" stroke="#111" stroke-width="1.5" stroke-linecap="round" stroke-linejoin="round" />
<path d="M257.6,529.6 L257.6,568 Q258,571.6 260.7,570 L260.7,529.6" fill="none" stroke="#111" stroke-width="1.5" stroke-linecap="round" stroke-linejoin="round" />
<circle cx="258.9" cy="523.4" r="7.2" fill="#fff" stroke="#111" stroke-width="1.7"/>
<ellipse cx="264.2" cy="522.8" rx="2.9" ry="4.2" transform="rotate(12 264.2 522.8)" fill="#1a1a1a"/>
<ellipse cx="264.6" cy="522.6" rx="1.0" ry="2.0" transform="rotate(12 264.6 522.6)" fill="#fff"/>
<path d="M270,517.4 Q276.4,519 276.6,524.6 Q276,529.6 277.6,533.6" fill="none" stroke="#111" stroke-width="2.6" stroke-linecap="round" stroke-linejoin="round" />
<path d="M263.2,538.4 L274.4,533.8 L292,535 Q296.6,536.4 298.4,541 L303.8,576.6 L302.6,586.4 L286.6,592.6 L269.4,598 L264.6,590 L264.4,546.4 Z" fill="#fff" stroke="#111" stroke-width="1.9" stroke-linejoin="round" />
<path d="M263.6,539 L278,543 L289,538.4" fill="none" stroke="#111" stroke-width="1.5" stroke-linecap="round" stroke-linejoin="round" />
<path d="M278,543 L286.6,590.6" fill="none" stroke="#111" stroke-width="1.6" stroke-linecap="round" stroke-linejoin="round" />
<path d="M289,538.6 L296.6,585.2" fill="none" stroke="#111" stroke-width="1.5" stroke-linecap="round" stroke-linejoin="round" />
<path d="M274.6,535.6 L281,541" fill="none" stroke="#111" stroke-width="1.3" stroke-linecap="round" stroke-linejoin="round" />
<path d="M264.6,546.6 L277,549.6" fill="none" stroke="#111" stroke-width="1.4" stroke-linecap="round" stroke-linejoin="round" />
<path d="M282.6,549.4 L289.2,586.8" fill="none" stroke="#111" stroke-width="3.0" stroke-linecap="round" stroke-linejoin="round" />
<path d="M287.4,546.6 L294.4,584.6" fill="none" stroke="#111" stroke-width="2.6" stroke-linecap="round" stroke-linejoin="round" />
<path d="M286.6,592.4 L302,584.6" fill="none" stroke="#111" stroke-width="1.4" stroke-linecap="round" stroke-linejoin="round" />
<ellipse cx="274.6" cy="548" rx="2.4" ry="2.4" transform="rotate(0 274.6 548)" fill="#222"/>
<ellipse cx="280.6" cy="590" rx="2.6" ry="2.6" transform="rotate(0 280.6 590)" fill="#222"/>
<path d="M301.4,556 L302.6,562" fill="none" stroke="#111" stroke-width="2.0" stroke-linecap="round" stroke-linejoin="round" />
<path d="M255.8,558 L260.8,548 L269.4,550.4 Q281.6,560 280.6,574 Q279.6,588 271.8,597.4 L266.8,602.4 L256,596 L248,580 Z" fill="#fff" stroke="#111" stroke-width="1.9" stroke-linejoin="round" />
<ellipse cx="263" cy="573.4" rx="8.2" ry="20.6" fill="#fff" stroke="#111" stroke-width="1.5" transform="rotate(-4 263 573.4)"/>
<path d="M256,562 Q252.4,574 257,586 Q259,591 261.6,592.6" fill="none" stroke="#111" stroke-width="3.2" stroke-linecap="round" stroke-linejoin="round" />
<path d="M257.6,529.6 L257.6,568 Q258,571.6 260.7,570 L260.7,529.6" fill="none" stroke="#111" stroke-width="1.5" stroke-linecap="round" stroke-linejoin="round" />
<path d="M166.8,548 Q170,542.6 176,540 L197,535.2 L216,537.6 L225,542 L241,548 L252.2,545.6 L255.8,558 L247.2,561.8 Q244,570 247.2,580 Q250,588 255,592.6 L265.6,598.6 L266.8,602.4 Q262,607.4 248.6,611.2 L211,624 L178.4,619.4 Q170,612 164.4,604 L158.6,588 L166.6,569 Z" fill="#fff" stroke="#111" stroke-width="2.0" stroke-linejoin="round" />
<path d="M249,564 Q247.6,574 251,583 Q254,589.6 262,594.8" fill="none" stroke="#111" stroke-width="1.4" stroke-linecap="round" stroke-linejoin="round" />
<path d="M241,548 L247.2,561.8" fill="none" stroke="#111" stroke-width="1.5" stroke-linecap="round" stroke-linejoin="round" />
<path d="M190,536.8 Q189,541 186,541.6 M216,537.6 Q214,541.6 219,543.4" fill="none" stroke="#111" stroke-width="1.4" stroke-linecap="round" stroke-linejoin="round" />
<ellipse cx="205.6" cy="584.3" rx="36.8" ry="36.4" fill="#fff" stroke="#111" stroke-width="2.4"/>
<ellipse cx="206.4" cy="586" rx="16.8" ry="18.4" fill="#fff" stroke="#111" stroke-width="4.6"/>
<ellipse cx="207.8" cy="587" rx="9.6" ry="12.8" fill="#fff" stroke="#111" stroke-width="2.0"/>
<path d="M184,587.4 L201.6,583.6 Q206.6,589 204.4,596.4 L187,600.2 Z" fill="#fff" stroke="#111" stroke-width="1.8" stroke-linejoin="round" />
<path d="M198.6,584.4 Q203.6,590 201,597.2" fill="none" stroke="#111" stroke-width="3.4" stroke-linecap="round" stroke-linejoin="round" />
<path d="M194.6,585.4 Q199,590.6 196.6,598.2" fill="none" stroke="#111" stroke-width="2.4" stroke-linecap="round" stroke-linejoin="round" />
<path d="M190.4,586.4 Q194.6,591.6 192.4,599.2" fill="none" stroke="#111" stroke-width="1.8" stroke-linecap="round" stroke-linejoin="round" />
<ellipse cx="184.6" cy="593.8" rx="6.4" ry="6.8" fill="#fff" stroke="#111" stroke-width="3.4"/>
<ellipse cx="185" cy="594" rx="2.6" ry="2.9" fill="#fff" stroke="#111" stroke-width="1.2"/>
<path d="M180,601 L186,609" fill="none" stroke="#111" stroke-width="2.6" stroke-linecap="round" stroke-linejoin="round" />
<circle cx="173.8" cy="555.2" r="3.5" fill="#fff" stroke="#111" stroke-width="1.6"/>
<circle cx="239.4" cy="558.6" r="3.5" fill="#fff" stroke="#111" stroke-width="1.6"/>
<circle cx="250.4" cy="600.6" r="3.5" fill="#fff" stroke="#111" stroke-width="1.6"/>
<circle cx="170.4" cy="596.2" r="3.5" fill="#fff" stroke="#111" stroke-width="1.6"/>
<circle cx="184.4" cy="562.2" r="3.7" fill="#222" stroke="#111" stroke-width="1.2"/>
<circle cx="185.0" cy="562.6" r="1.2" fill="#999"/>
<circle cx="225.4" cy="568.2" r="3.7" fill="#222" stroke="#111" stroke-width="1.2"/>
<circle cx="226.0" cy="568.6" r="1.2" fill="#999"/>
<circle cx="225.4" cy="610" r="3.7" fill="#222" stroke="#111" stroke-width="1.2"/>
<circle cx="226.0" cy="610.4" r="1.2" fill="#999"/>
<circle cx="183" cy="605.4" r="3.7" fill="#222" stroke="#111" stroke-width="1.2"/>
<circle cx="183.6" cy="605.8" r="1.2" fill="#999"/>
<ellipse cx="216.4" cy="544.6" rx="1.8" ry="1.8" transform="rotate(0 216.4 544.6)" fill="#222"/>
<circle cx="231" cy="550.6" r="2.3" fill="#fff" stroke="#111" stroke-width="1.6"/>
<path d="M115.6,713.6 L262,746.6 Q266,747.4 270,745.6 L287,741.2" fill="none" stroke="#111" stroke-width="3.5" stroke-linecap="butt" stroke-linejoin="round"/>
<path d="M115.6,713.6 L262,746.6 Q266,747.4 270,745.6 L287,741.2" fill="none" stroke="#fff" stroke-width="0.90" stroke-linecap="butt" stroke-linejoin="round"/>
<path d="M115,712.6 Q113.6,714 115.4,715.2" fill="none" stroke="#111" stroke-width="1.0" stroke-linecap="round" stroke-linejoin="round" />
<path d="M142.6,722.4 L186,735.8" fill="none" stroke="#111" stroke-width="1.7" stroke-linecap="round" stroke-linejoin="round" />
<path d="M142,720.4 L150,722.4" fill="none" stroke="#111" stroke-width="2.6" stroke-linecap="round" stroke-linejoin="round" />
<ellipse cx="289.4" cy="740.6" rx="3.8" ry="2.4" transform="rotate(-15 289.4 740.6)" fill="#fff" stroke="#111" stroke-width="1.7"/>
<ellipse cx="193.8" cy="738.8" rx="4.0" ry="2.6" transform="rotate(-12 193.8 738.8)" fill="#111"/>
<ellipse cx="207.6" cy="742.6" rx="3.6" ry="2.8" transform="rotate(-12 207.6 742.6)" fill="#111"/>
<path d="M217,746.4 L225,748 Q228.6,749.6 228.6,754 L229.4,760 Q230.4,765 236,766.6 L265.6,775.6" fill="none" stroke="#111" stroke-width="4.8" stroke-dasharray="14 1.2" stroke-linecap="butt" stroke-linejoin="round"/>
<path d="M217,746.4 L225,748 Q228.6,749.6 228.6,754 L229.4,760 Q230.4,765 236,766.6 L265.6,775.6" fill="none" stroke="#fff" stroke-width="1.90" stroke-linecap="butt" stroke-linejoin="round"/>
<path d="M217,744.4 L216.4,748.4" fill="none" stroke="#111" stroke-width="1.2" stroke-linecap="round" stroke-linejoin="round" />
<ellipse cx="265.6" cy="775.8" rx="1.6" ry="2.4" fill="#fff" stroke="#111" stroke-width="1.2"/>
<ellipse cx="277" cy="779.2" rx="3.4" ry="2.8" transform="rotate(0 277 779.2)" fill="#111"/>
<path d="M280,781 Q288.6,783 290.6,791 L292.2,802.6" fill="none" stroke="#111" stroke-width="2.0" stroke-linecap="round" stroke-linejoin="round" />
<ellipse cx="307.6" cy="735" rx="5.0" ry="2.8" transform="rotate(-15 307.6 735)" fill="#111"/>
<path d="M311,733.6 L319,730.8" fill="none" stroke="#111" stroke-width="1.6" stroke-linecap="round" stroke-linejoin="round" />
<g transform="translate(331.6,727) rotate(-15)"><path d="M-10,-3.6 L8,-4.4 Q11,-1 8.6,4 L-9,4.4 Q-11.6,0 -10,-3.6 Z" fill="#1a1a1a"/><path d="M-5,-2 L-4,2.6 M0,-2.6 L1,2.6 M4.6,-2.6 L5.6,2.4" stroke="#fff" stroke-width="1.0"/></g>
<ellipse cx="357.6" cy="719" rx="5.6" ry="2.8" transform="rotate(-15 357.6 719)" fill="#111"/>
<ellipse cx="373.8" cy="713.8" rx="2.0" ry="1.2" transform="rotate(20 373.8 713.8)" fill="#111"/>
<ellipse cx="424.4" cy="696.4" rx="6.4" ry="2.8" transform="rotate(-15 424.4 696.4)" fill="#111"/>
<ellipse cx="438.8" cy="692.4" rx="5.6" ry="2.8" transform="rotate(-15 438.8 692.4)" fill="#111"/>
<ellipse cx="506" cy="670.4" rx="6.4" ry="3.0" transform="rotate(-15 506 670.4)" fill="#111"/>
<path d="M379.6,670 L393.2,664.4 L422,666 L421.2,671.6 L386,685.2 L383.6,684.4 L380.6,675 Z" fill="#fff" stroke="#111" stroke-width="1.4" stroke-linejoin="round" />
<path d="M386,684.6 L421,671" fill="none" stroke="#111" stroke-width="2.6" stroke-linecap="round" stroke-linejoin="round" />
<path d="M384,673 L397,668.6 M389,677.6 L404,672 M396,670.8 L411,668.4 M392,667.8 L399,667 M404,675 L414,671.6" fill="none" stroke="#111" stroke-width="1.5" stroke-dasharray="3.4 1.4" stroke-linecap="round" stroke-linejoin="round" />
<ellipse cx="419.6" cy="672.8" rx="1.8" ry="1.6" transform="rotate(0 419.6 672.8)" fill="#111"/>
<path d="M390.8,686 L390.8,705" fill="none" stroke="#111" stroke-width="1.7" stroke-linecap="round" stroke-linejoin="round" />
<g transform="translate(398.6,709.6)">
<path d="M-17,0 Q-16,-5 -6,-6 L6,-8.6 Q16,-8 17.6,-1 Q17,4.6 8,6.6 L-8,7.4 Q-16,6 -17,0 Z" fill="#fff" stroke="#111" stroke-width="1.3" stroke-dasharray="5 1.5"/>
<path d="M-14,-2.4 L-6,-3.6 L-5.4,4.6 L-13,4.4 Z M-3,-4 L3.6,-5 L4,3 L-2.6,4 Z" fill="#1a1a1a"/>
<path d="M6,-4.6 Q10,-2 9,3.4 M11,-3.6 Q14,-1 12.6,2.4 M-10,-5 L4,-7.6" stroke="#111" stroke-width="1.4" fill="none" stroke-dasharray="3 1.2"/>
</g>
<ellipse cx="399.2" cy="726.4" rx="17" ry="5.9" fill="#222" stroke="#111" stroke-width="1"/>
<path d="M385,726 L413,726 M388,723.4 L410,723.4 M388,728.8 L410,728.8" fill="none" stroke="#111" stroke-width="0.9" stroke-dasharray="1.4 1.6" stroke-linecap="round" stroke-linejoin="round" style="stroke:#fff"/>
<path d="M415.9,727 L415.9,755" fill="none" stroke="#111" stroke-width="1.6" stroke-linecap="round" stroke-linejoin="round" />
<path d="M382.8,754 Q398.8,766.8 415.8,754.6" fill="none" stroke="#111" stroke-width="1.6" stroke-linecap="round" stroke-linejoin="round" />
<path d="M451.6,684 Q452.4,678 460,676.4 L472,675.4 L486,673.4 L496.4,672.8 L498,680.4 L485,685 L487,690.4 Q481,695.6 469,695 Q456.6,694 452.6,688.6" fill="none" stroke="#111" stroke-width="1.6" stroke-dasharray="5 1.6" stroke-linecap="round" stroke-linejoin="round" />
<path d="M457,679.6 L466,677.6 M455,683.6 L462,688.6 M459,691 L468,693.4 M470,680 L478,677.6 M463,683 L472,682 M466,686.6 L475,684 M471,690 L478,692.4 M478,686 L483,690 M476,680.4 L488,676.4 M481,682.4 L493,678" fill="none" stroke="#111" stroke-width="1.6" stroke-dasharray="3.4 1.6" stroke-linecap="round" stroke-linejoin="round" />
<path d="M488,674.4 L496.4,673.6 L497,679.6 L490,681.4 Z" fill="#222" stroke="#111" stroke-width="1.0" stroke-linejoin="round" />
<path d="M453,681 L459,679 L461,686 L456,689.6 Z" fill="#222" stroke="#111" stroke-width="1.0" stroke-linejoin="round" />
<ellipse cx="472.6" cy="686.6" rx="1.6" ry="1.4" transform="rotate(0 472.6 686.6)" fill="#111"/>
<path d="M459.6,700.4 L469.4,704.4" fill="none" stroke="#111" stroke-width="1.8" stroke-dasharray="3 1.4" stroke-linecap="round" stroke-linejoin="round" />
<path d="M473,704.4 Q459,708.8 459.2,714.4 Q460,718.4 466,721" fill="none" stroke="#111" stroke-width="1.9" stroke-linecap="round" stroke-linejoin="round" />
<path d="M466,721 L477.4,725.4" fill="none" stroke="#111" stroke-width="2.8" stroke-linecap="round" stroke-linejoin="round" />
<path d="M524.4,605.6 L511.8,618.4 Q510.4,620.4 511.8,622.4 L538.6,654.4 Q540.6,657.6 537.6,660 L531,663.8 L524,665.2" fill="none" stroke="#111" stroke-width="4.6" stroke-linecap="butt" stroke-linejoin="round"/>
<path d="M524.4,605.6 L511.8,618.4 Q510.4,620.4 511.8,622.4 L538.6,654.4 Q540.6,657.6 537.6,660 L531,663.8 L524,665.2" fill="none" stroke="#fff" stroke-width="1.60" stroke-linecap="butt" stroke-linejoin="round"/>
<ellipse cx="527" cy="602.8" rx="4.8" ry="2.8" transform="rotate(-20 527 602.8)" fill="#fff" stroke="#111" stroke-width="2.2"/>
<ellipse cx="521" cy="666" rx="4.8" ry="3.0" transform="rotate(-15 521 666)" fill="#fff" stroke="#111" stroke-width="2.6"/>
<g transform="translate(538.2,594.4) rotate(-10)"><path d="M-7,1.6 L-3,-4.6 L3.6,-5 L7,-1 L6,3.4 L-2,4.8 Z" fill="#222"/><circle cx="0.4" cy="-1" r="1.7" fill="#fff"/></g>
<ellipse cx="553.8" cy="599.6" rx="5.6" ry="2.9" transform="rotate(-15 553.8 599.6)" fill="#111"/>
<path d="M238.8,823.8 L255,817.5 L303,799.5" fill="none" stroke="#111" stroke-width="1.15" stroke-dasharray="10 3.2 1.6 3.2" stroke-linecap="round" stroke-linejoin="round" />
<path d="M331,788.4 L417,767.2 L441,775.6 L446,780.6 L451,782.6 L541,811 L546,814.6 L552,814.6 L562.5,816" fill="none" stroke="#111" stroke-width="1.15" stroke-dasharray="10 3.2 1.6 3.2" stroke-linecap="round" stroke-linejoin="round" />
<path d="M562.5,816 L622.5,836 L627.5,841 L634,842.6 L660,846.4 Q672,852 683.8,868.8" fill="none" stroke="#111" stroke-width="1.15" stroke-dasharray="10 3.2 1.6 3.2" stroke-linecap="round" stroke-linejoin="round" />
<path d="M546,814.6 L562.5,816" fill="none" stroke="#111" stroke-width="1.3" stroke-linecap="round" stroke-linejoin="round" />
<path d="M627.5,841 L660,846.4" fill="none" stroke="#111" stroke-width="1.4" stroke-linecap="round" stroke-linejoin="round" />
<path d="M683.8,868.8 L615,925 L577.5,941 L520,956 L511,957.5" fill="none" stroke="#111" stroke-width="1.15" stroke-dasharray="10 3.2 1.6 3.2" stroke-linecap="round" stroke-linejoin="round" />
<path d="M511,957.5 L480,946 L465,942.5" fill="none" stroke="#111" stroke-width="1.15" stroke-dasharray="7 2 1.5 2" stroke-linecap="round" stroke-linejoin="round" />
<path d="M465,942.5 L442.5,936 Q436,930 432.5,917.5" fill="none" stroke="#111" stroke-width="1.3" stroke-dasharray="10 2" stroke-linecap="round" stroke-linejoin="round" />
<path d="M447.5,890 L492.5,905" fill="none" stroke="#111" stroke-width="1.15" stroke-dasharray="10 3.2 1.6 3.2" stroke-linecap="round" stroke-linejoin="round" />
<path d="M492.5,905 L520,893.8 L660,850" fill="none" stroke="#111" stroke-width="1.15" stroke-dasharray="12 3 2 3" stroke-linecap="round" stroke-linejoin="round" />
<path d="M490,906 L511,957.5" fill="none" stroke="#111" stroke-width="1.15" stroke-dasharray="6 2 1.5 2" stroke-linecap="round" stroke-linejoin="round" />
<path d="M470,897 L492,903.6" fill="none" stroke="#111" stroke-width="1.2" stroke-dasharray="4 1.4" stroke-linecap="round" stroke-linejoin="round" />
<path d="M238.8,823.8 L246,845 L260,875" fill="none" stroke="#111" stroke-width="1.15" stroke-dasharray="8 3" stroke-linecap="round" stroke-linejoin="round" />
<path d="M260,875 L287.5,885 L301,886 L302.5,891" fill="none" stroke="#111" stroke-width="1.3" stroke-dasharray="9 1.6" stroke-linecap="round" stroke-linejoin="round" />
<path d="M302.5,891 L331,898.8 L357.5,895 L378.8,900" fill="none" stroke="#111" stroke-width="1.15" stroke-dasharray="10 3.2 1.6 3.2" stroke-linecap="round" stroke-linejoin="round" />
<path d="M310,847.5 L331,898.8" fill="none" stroke="#111" stroke-width="1.15" stroke-dasharray="8 2 1.5 2" stroke-linecap="round" stroke-linejoin="round" />
<path d="M262,831 L285,880" fill="none" stroke="#111" stroke-width="1.15" stroke-dasharray="7 3" stroke-linecap="round" stroke-linejoin="round" />
<path d="M269.6,830 L292.4,881" fill="none" stroke="#111" stroke-width="1.15" stroke-dasharray="7 3" stroke-linecap="round" stroke-linejoin="round" />
<path d="M277.6,835.6 L296.6,879" fill="none" stroke="#111" stroke-width="1.15" stroke-dasharray="7 2.4 1.5 2.4" stroke-linecap="round" stroke-linejoin="round" />
<path d="M244,826.4 L262,822.6 M250,829.4 L270,825.4" fill="none" stroke="#111" stroke-width="1.15" stroke-dasharray="6 2.4" stroke-linecap="round" stroke-linejoin="round" />
<path d="M277.5,835 L292.5,843.8 Q300,845 317.5,842.5 L355,831.4 L370,831.2" fill="none" stroke="#111" stroke-width="1.5" stroke-dasharray="26 5" stroke-linecap="round" stroke-linejoin="round" />
<path d="M370,831.2 L405.7,840 L431.3,848" fill="none" stroke="#111" stroke-width="1.15" stroke-dasharray="10 3.2 1.6 3.2" stroke-linecap="round" stroke-linejoin="round" />
<path d="M431.3,848 L463.3,862.5 L448.9,870.5" fill="none" stroke="#111" stroke-width="1.15" stroke-dasharray="10 2.4" stroke-linecap="round" stroke-linejoin="round" />
<path d="M430.6,851.3 L430.6,878" fill="none" stroke="#111" stroke-width="1.15" stroke-dasharray="7 2 1.5 2" stroke-linecap="round" stroke-linejoin="round" />
<path d="M430.6,878 L419,885 L422,893" fill="none" stroke="#111" stroke-width="1.2" stroke-linecap="round" stroke-linejoin="round" />
<path d="M275,818 Q292,808.6 313,812.4 Q324,816 318,823.6 Q305,833 284,830.6 Q270,826 275,818 Z" fill="none" stroke="#111" stroke-width="1.15" stroke-dasharray="10 7" stroke-linecap="round" stroke-linejoin="round" />
<ellipse cx="298.6" cy="820.2" rx="10.8" ry="4.8" transform="rotate(-6 297.6 819.8)" fill="none" stroke="#111" stroke-width="2.4" stroke-dasharray="5 1.2"/>
<path d="M293,819 L304,817.6 M294,822.6 L303,821.6" fill="none" stroke="#111" stroke-width="1.5" stroke-dasharray="3 1.2" stroke-linecap="round" stroke-linejoin="round" />
<path d="M292.5,843.8 L301,836" fill="none" stroke="#111" stroke-width="1.1" stroke-linecap="round" stroke-linejoin="round" />
<ellipse cx="318.6" cy="795.6" rx="14.6" ry="6.8" fill="#fff" stroke="#111" stroke-width="1.4" stroke-dasharray="6 1.4"/>
<ellipse cx="318.6" cy="796.4" rx="10" ry="4.2" fill="none" stroke="#111" stroke-width="1.1" stroke-dasharray="4 1.6"/>
<path d="M304,796.4 L304.4,802.6 Q318,811.6 333,802.6 L333.2,796" fill="none" stroke="#111" stroke-width="1.3" stroke-dasharray="6 1.6" stroke-linecap="round" stroke-linejoin="round" />
<path d="M307,805 Q318,812.6 331,806.6" fill="none" stroke="#111" stroke-width="1.1" stroke-dasharray="5 2" stroke-linecap="round" stroke-linejoin="round" />
<path d="M328.6,789.4 L357,829.6" fill="none" stroke="#111" stroke-width="2.6" stroke-dasharray="9 1.6" stroke-linecap="round" stroke-linejoin="round" />
<path d="M342,788.6 L370,829.4" fill="none" stroke="#111" stroke-width="1.5" stroke-dasharray="7 2.4" stroke-linecap="round" stroke-linejoin="round" />
<path d="M335.6,791 L363,829" fill="none" stroke="#111" stroke-width="1.3" stroke-dasharray="4 3" stroke-linecap="round" stroke-linejoin="round" />
<path d="M357,829.8 L370,829.4" fill="none" stroke="#111" stroke-width="1.8" stroke-linecap="round" stroke-linejoin="round" />
<path d="M331,788.4 L343.2,788.6" fill="none" stroke="#111" stroke-width="1.6" stroke-linecap="round" stroke-linejoin="round" />
<path d="M356.0,799.5 L437.0,775.9" fill="none" stroke="#111" stroke-width="1.15" stroke-dasharray="10 3.6 2 3.6" stroke-linecap="round" stroke-linejoin="round" />
<path d="M361.8,801.6 L438.0,779.4" fill="none" stroke="#111" stroke-width="1.15" stroke-dasharray="10 3.6 2 3.6" stroke-linecap="round" stroke-linejoin="round" />
<path d="M358.0,806.5 L439.0,782.9" fill="none" stroke="#111" stroke-width="1.15" stroke-dasharray="10 3.6 2 3.6" stroke-linecap="round" stroke-linejoin="round" />
<path d="M445.1,828.3 L529.1,805.5" fill="none" stroke="#111" stroke-width="1.15" stroke-dasharray="10 3.6 2 3.6" stroke-linecap="round" stroke-linejoin="round" />
<path d="M450.8,830.5 L530.0,809.0" fill="none" stroke="#111" stroke-width="1.15" stroke-dasharray="10 3.6 2 3.6" stroke-linecap="round" stroke-linejoin="round" />
<path d="M446.9,835.3 L530.9,812.5" fill="none" stroke="#111" stroke-width="1.15" stroke-dasharray="10 3.6 2 3.6" stroke-linecap="round" stroke-linejoin="round" />
<path d="M447.4,826.6 Q440.6,830.4 445,837" fill="none" stroke="#111" stroke-width="1.3" stroke-linecap="round" stroke-linejoin="round" />
<path d="M533.0,859.3 L617.0,835.3" fill="none" stroke="#111" stroke-width="1.15" stroke-dasharray="10 3.6 2 3.6" stroke-linecap="round" stroke-linejoin="round" />
<path d="M538.8,861.4 L618.0,838.8" fill="none" stroke="#111" stroke-width="1.15" stroke-dasharray="10 3.6 2 3.6" stroke-linecap="round" stroke-linejoin="round" />
<path d="M535.0,866.3 L619.0,842.3" fill="none" stroke="#111" stroke-width="1.15" stroke-dasharray="10 3.6 2 3.6" stroke-linecap="round" stroke-linejoin="round" />
<path d="M535.4,857.6 Q528.6,861.6 533,868 L548,865" fill="none" stroke="#111" stroke-width="1.3" stroke-linecap="round" stroke-linejoin="round" />
<path d="M378.8,872.5 L378.8,900" fill="none" stroke="#111" stroke-width="1.15" stroke-dasharray="6 2" stroke-linecap="round" stroke-linejoin="round" />
<path d="M378.8,872.5 L420,890" fill="none" stroke="#111" stroke-width="1.2" stroke-dasharray="12 2" stroke-linecap="round" stroke-linejoin="round" />
<path d="M378.8,900 L430,910" fill="none" stroke="#111" stroke-width="1.15" stroke-dasharray="10 3.2 1.6 3.2" stroke-linecap="round" stroke-linejoin="round" />
<path d="M392.5,897.5 L405,892.5 M382,878 L391,881" fill="none" stroke="#111" stroke-width="1.2" stroke-linecap="round" stroke-linejoin="round" />
<path d="M420,890 L428.8,910" fill="none" stroke="#111" stroke-width="1.15" stroke-dasharray="5 2" stroke-linecap="round" stroke-linejoin="round" />
<path d="M418.8,885 L432.5,917.5" fill="none" stroke="#111" stroke-width="1.1" stroke-dasharray="5 2 1.5 2" stroke-linecap="round" stroke-linejoin="round" />
<path d="M400,885.6 L419,884.6" fill="none" stroke="#111" stroke-width="1.1" stroke-linecap="round" stroke-linejoin="round" />
<path d="M407,905.6 L428,910.4 L425,902" fill="none" stroke="#111" stroke-width="1.1" stroke-linecap="round" stroke-linejoin="round" />
<path d="M445,890 L467,942" fill="none" stroke="#111" stroke-width="1.15" stroke-dasharray="7 2.6" stroke-linecap="round" stroke-linejoin="round" />
<path d="M451,890.6 L474,945" fill="none" stroke="#111" stroke-width="1.15" stroke-dasharray="7 2.6" stroke-linecap="round" stroke-linejoin="round" />
<path d="M457,892 L480,946" fill="none" stroke="#111" stroke-width="1.15" stroke-dasharray="7 2.4 1.5 2.4" stroke-linecap="round" stroke-linejoin="round" />
<path d="M448,892.6 L470,897" fill="none" stroke="#111" stroke-width="1.15" stroke-dasharray="10 3.2 1.6 3.2" stroke-linecap="round" stroke-linejoin="round" />
<path d="M313,66.5 L363.5,98.5" fill="none" stroke="#111" stroke-width="2.0" stroke-linecap="round" stroke-linejoin="round" />
<path d="M142.4,262 L145.8,290" fill="none" stroke="#111" stroke-width="2.0" stroke-linecap="round" stroke-linejoin="round" />
<path d="M299,548 L342,535" fill="none" stroke="#111" stroke-width="1.9" stroke-linecap="round" stroke-linejoin="round" />
<path d="M564,685.5 L475,703.8" fill="none" stroke="#111" stroke-width="1.7" stroke-linecap="round" stroke-linejoin="round" />
<path d="M416,746 L483.5,753.6" fill="none" stroke="#111" stroke-width="1.8" stroke-linecap="round" stroke-linejoin="round" />
<path d="M562.5,816 L600.5,796" fill="none" stroke="#111" stroke-width="2.2" stroke-linecap="round" stroke-linejoin="round" />
<rect x="273.9" y="26.1" width="84.60000000000002" height="19.4" fill="#fff" stroke="#111" stroke-width="1.6"/>
<text x="278.3" y="41.5" textLength="75.9" lengthAdjust="spacingAndGlyphs">10.214.07</text>
<rect x="273.9" y="45.5" width="115.60000000000002" height="20.599999999999994" fill="#fff" stroke="#111" stroke-width="1.6"/>
<text x="278.3" y="60.9" textLength="106.4" lengthAdjust="spacingAndGlyphs">10.214.08(02)</text>
<rect x="100.6" y="241" width="83.70000000000002" height="20.399999999999977" fill="#fff" stroke="#111" stroke-width="1.6"/>
<text x="103.4" y="256.9" textLength="75.4" lengthAdjust="spacingAndGlyphs">10.216.05</text>
<rect x="342.8" y="525.8" width="92.30000000000001" height="21.100000000000023" fill="#fff" stroke="#111" stroke-width="1.6"/>
<text x="350.6" y="542.0" textLength="75.4" lengthAdjust="spacingAndGlyphs">10.246.03</text>
<rect x="564.4" y="674.8" width="91.80000000000007" height="21.200000000000045" fill="#fff" stroke="#111" stroke-width="1.6"/>
<text x="571.6" y="690.9" textLength="74.6" lengthAdjust="spacingAndGlyphs">10.206.01</text>
<rect x="483.9" y="729.7" width="115.70000000000005" height="19.199999999999932" fill="#fff" stroke="#111" stroke-width="1.6"/>
<text x="486.4" y="743.8" textLength="105.4" lengthAdjust="spacingAndGlyphs">10.214.07(01)</text>
<rect x="483.9" y="748.9" width="115.70000000000005" height="20.300000000000068" fill="#fff" stroke="#111" stroke-width="1.6"/>
<text x="486.4" y="764.0" textLength="105.4" lengthAdjust="spacingAndGlyphs">10.214.08(02)</text>
<rect x="600.9" y="784.9" width="92.20000000000005" height="20.800000000000068" fill="#fff" stroke="#111" stroke-width="1.6"/>
<text x="607.0" y="799.7" textLength="76.2" lengthAdjust="spacingAndGlyphs">10.214.09</text>
</g>
</svg>
</body></html>
